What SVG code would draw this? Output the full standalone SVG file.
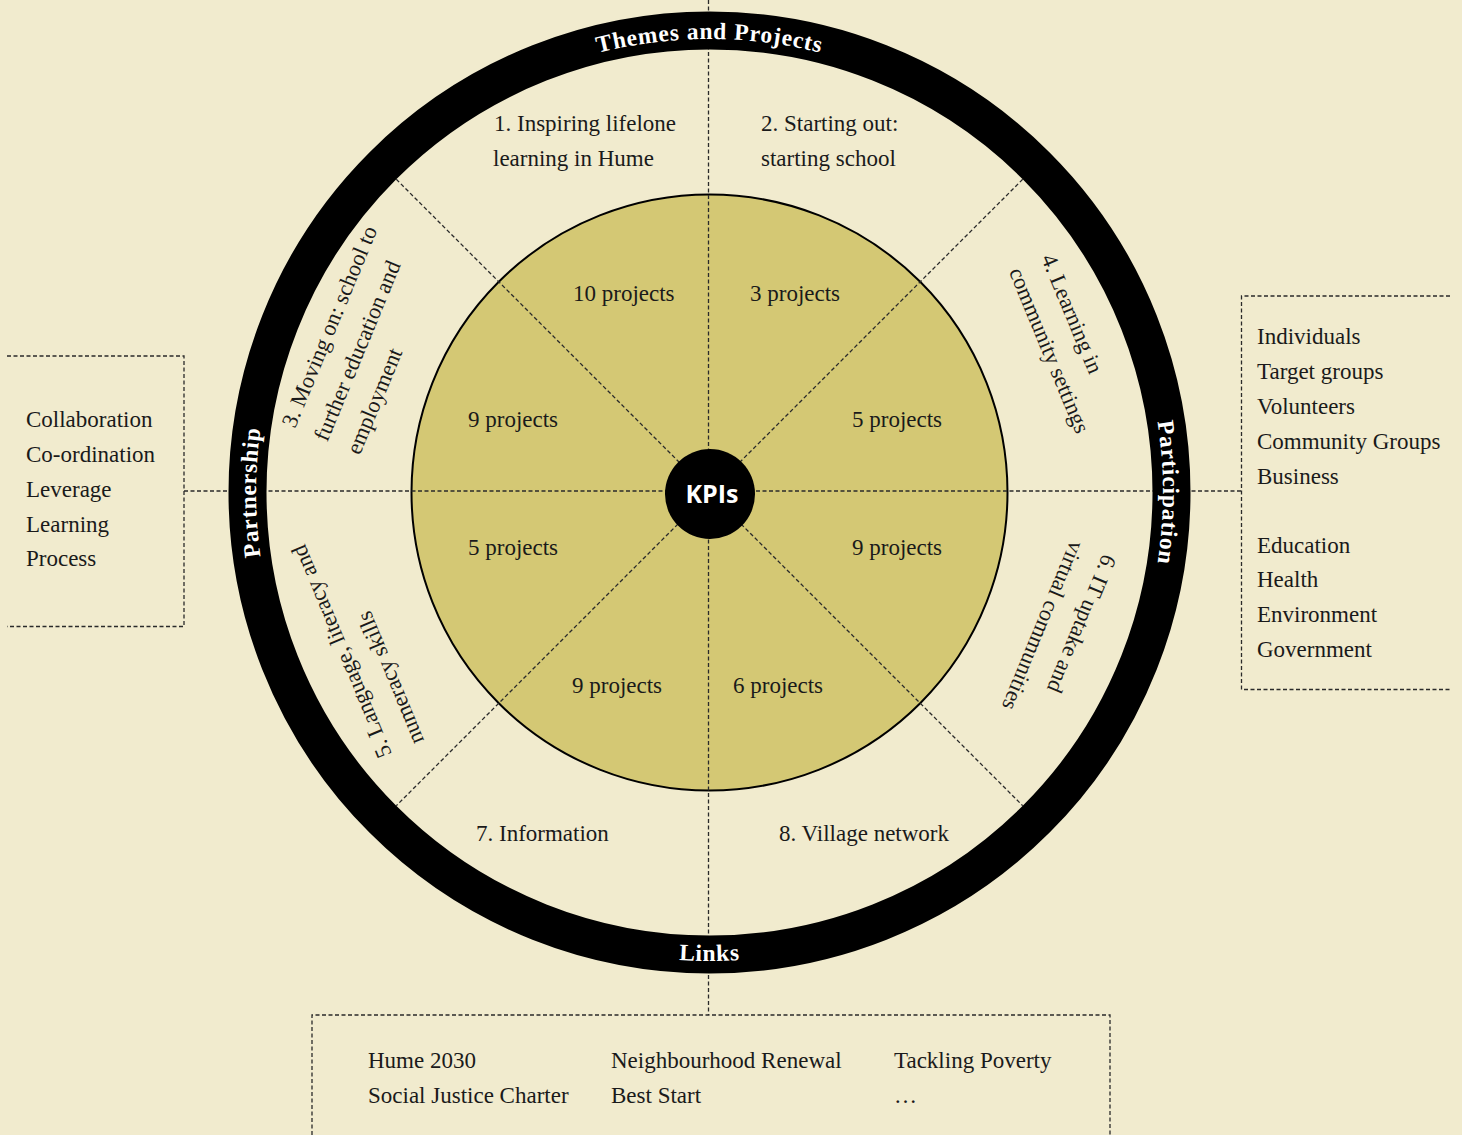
<svg xmlns="http://www.w3.org/2000/svg" width="1462" height="1135" viewBox="0 0 1462 1135">
<style>
.t{font-family:"Liberation Serif","Times New Roman",serif;font-size:23px;fill:#1a1a1a}
.r{font-family:"Liberation Serif","Times New Roman",serif;font-size:22.5px;fill:#1a1a1a}
.ring{font-family:"Liberation Serif","Times New Roman",serif;font-size:23.5px;font-weight:bold;fill:#ffffff;letter-spacing:0.8px}
.d{fill:none;stroke:#2a2a2a;stroke-width:1.3;stroke-dasharray:4 2.5}
</style>
<defs>
<path id="arcTop" d="M 256 492.5 A 453.5 453.5 0 0 1 1163 492.5"/>
<path id="arcRight" d="M 709.5 39 A 453.5 453.5 0 0 1 709.5 946"/>
<path id="arcLeft" d="M 709.5 946 A 453.5 453.5 0 0 1 709.5 39"/>
<path id="arcBottom" d="M 241 492.5 A 468.5 468.5 0 0 0 1178 492.5"/>
</defs>
<rect x="0" y="0" width="1462" height="1135" fill="#f1ebce"/>
<g id="inner-circle">
<circle cx="709.5" cy="492.5" r="298" fill="#d4c874" stroke="#000" stroke-width="2"/>
</g>
<g id="connectors">
<path class="d" d="M 708.5 0 V 1015"/>
<path class="d" d="M 184 491 H 1241.5"/>
<path class="d" d="M 396.3 179.3 L 1022.7 805.7"/>
<path class="d" d="M 1022.7 179.3 L 396.3 805.7"/>
</g>
<g id="ring">
<circle cx="709.5" cy="492.5" r="462" fill="none" stroke="#000" stroke-width="38"/>
<text class="ring"><textPath href="#arcTop" startOffset="50%" text-anchor="middle">Themes and Projects</textPath></text>
<text class="ring"><textPath href="#arcRight" startOffset="50%" text-anchor="middle">Participation</textPath></text>
<text class="ring"><textPath href="#arcLeft" startOffset="50%" text-anchor="middle">Partnership</textPath></text>
<text class="ring"><textPath href="#arcBottom" startOffset="50%" text-anchor="middle">Links</textPath></text>
</g>
<g id="kpis">
<circle cx="710" cy="494" r="45" fill="#000"/>
<text x="712" y="503" text-anchor="middle" font-family="'Open Sans','DejaVu Sans',sans-serif" font-weight="700" font-size="25" fill="#fff">KPIs</text>
</g>
<g id="theme-1"><text class="t" x="494" y="131">1. Inspiring lifelone</text><text class="t" x="493" y="166">learning in Hume</text></g>
<g id="theme-2"><text class="t" x="761" y="131">2. Starting out:</text><text class="t" x="761" y="166">starting school</text></g>
<g id="theme-3"><g transform="translate(295 429) rotate(-67.5)"><text class="r" x="0" y="0">3. Moving on: school to</text><text class="r" x="0" y="35">further education and</text><text class="r" x="0" y="70">employment</text></g></g>
<g id="theme-4"><g transform="translate(1041 258) rotate(67.5)"><text class="r" x="0" y="0">4. Learning in</text><text class="r" x="0" y="35">community settings</text></g></g>
<g id="theme-5"><g transform="translate(392 754) rotate(-112.5)"><text class="r" x="0" y="0">5. Language, literacy and</text><text class="r" x="0" y="35">numeracy skills</text></g></g>
<g id="theme-6"><g transform="translate(1103 553) rotate(112.5)"><text class="r" x="0" y="0">6. IT uptake and</text><text class="r" x="0" y="35">virtual communities</text></g></g>
<g id="theme-7"><text class="t" x="476" y="841">7. Information</text></g>
<g id="theme-8"><text class="t" x="779" y="841">8. Village network</text></g>
<g id="projects">
<text class="t" x="573" y="301">10 projects</text>
<text class="t" x="750" y="301">3 projects</text>
<text class="t" x="468" y="427">9 projects</text>
<text class="t" x="852" y="427">5 projects</text>
<text class="t" x="468" y="555">5 projects</text>
<text class="t" x="852" y="555">9 projects</text>
<text class="t" x="572" y="693">9 projects</text>
<text class="t" x="733" y="693">6 projects</text>
</g>
<g id="partnership-box">
<path class="d" d="M 7 356 H 184 V 626.5 H 7"/>
<text class="t" x="26" y="427">Collaboration</text>
<text class="t" x="26" y="462">Co-ordination</text>
<text class="t" x="26" y="497">Leverage</text>
<text class="t" x="26" y="531.5">Learning</text>
<text class="t" x="26" y="566">Process</text>
</g>
<g id="participation-box">
<path class="d" d="M 1450 296 H 1241.5 V 689.5 H 1450"/>
<text class="t" x="1257" y="344">Individuals</text>
<text class="t" x="1257" y="379">Target groups</text>
<text class="t" x="1257" y="414">Volunteers</text>
<text class="t" x="1257" y="448.5">Community Groups</text>
<text class="t" x="1257" y="483.5">Business</text>
<text class="t" x="1257" y="552.5">Education</text>
<text class="t" x="1257" y="587">Health</text>
<text class="t" x="1257" y="622">Environment</text>
<text class="t" x="1257" y="657">Government</text>
</g>
<g id="links-box">
<path class="d" d="M 312 1135 V 1015 H 1110 V 1135"/>
<text class="t" x="368" y="1068">Hume 2030</text>
<text class="t" x="368" y="1103">Social Justice Charter</text>
<text class="t" x="611" y="1068">Neighbourhood Renewal</text>
<text class="t" x="611" y="1103">Best Start</text>
<text class="t" x="894" y="1068">Tackling Poverty</text>
<text class="t" x="894" y="1103">…</text>
</g>
</svg>
